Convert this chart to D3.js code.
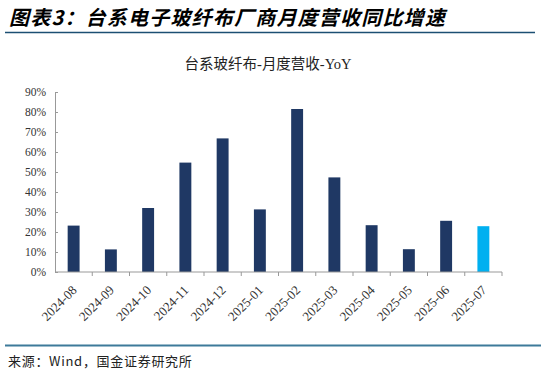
<!DOCTYPE html>
<html>
<head>
<meta charset="utf-8">
<script src="https://cdn.jsdelivr.net/npm/d3@7"></script>
<style>
  html, body { margin: 0; padding: 0; background: #fff; }
  svg { display: block; }
</style>
</head>
<body>
<div id="chart"></div>
<script>
// ---- 데이터 ----
const months = ["2024-08", "2024-09", "2024-10", "2024-11", "2024-12", "2025-01",
                "2025-02", "2025-03", "2025-04", "2025-05", "2025-06", "2025-07"];
const yoy = [0.232, 0.113, 0.32, 0.547, 0.668, 0.313, 0.815, 0.473, 0.234, 0.114, 0.256, 0.229];
const yTicks = [0, 0.1, 0.2, 0.3, 0.4, 0.5, 0.6, 0.7, 0.8, 0.9];

const W = 541, H = 374;
const svg = d3.select("#chart").append("svg")
  .attr("width", W).attr("height", H);

// 제목
svg.append("text")
  .attr("x", 9).attr("y", 25)
  .attr("font-family", "'Noto Sans CJK SC', sans-serif")
  .attr("font-size", 20).attr("font-weight", "bold").attr("font-style", "italic")
  .attr("letter-spacing", 1.2)
  .attr("fill", "#000")
  .text("图表3：台系电子玻纤布厂商月度营收同比增速");

svg.append("line")
  .attr("x1", 5).attr("x2", 535).attr("y1", 32.5).attr("y2", 32.5)
  .attr("stroke", "#1c4f73").attr("stroke-width", 1.5);

// 차트 제목
svg.append("text")
  .attr("x", 268).attr("y", 69)
  .attr("text-anchor", "middle")
  .attr("font-family", "'Liberation Serif', 'Noto Sans CJK SC', serif")
  .attr("font-size", 14.5)
  .attr("fill", "#222")
  .text("台系玻纤布-月度营收-YoY");

// 스케일
const x = d3.scaleBand().domain(months).range([55, 502]).paddingInner(0.68).paddingOuter(0.34);
const y = d3.scaleLinear().domain([0, 0.9]).range([272, 92]);

// y축
const yAxis = svg.append("g")
  .attr("transform", "translate(55,0)")
  .call(d3.axisRight(y).tickValues(yTicks).tickSize(3).tickFormat(d3.format(".0%")));
yAxis.select(".domain").attr("stroke", "#999");
yAxis.selectAll(".tick line").attr("stroke", "#999");
yAxis.selectAll(".tick text")
  .attr("x", -9).attr("text-anchor", "end")
  .attr("font-family", "'Liberation Serif', serif").attr("font-size", 11.5)
  .attr("fill", "#333");

// 막대
svg.append("g").selectAll("rect")
  .data(yoy)
  .join("rect")
  .attr("x", (d, i) => x(months[i]))
  .attr("width", x.bandwidth())
  .attr("y", d => y(d))
  .attr("height", d => y(0) - y(d))
  .attr("fill", (d, i) => i === yoy.length - 1 ? "#00b0f0" : "#1f3864");

// x축 (눈금은 카테고리 경계)
const xg = svg.append("g").attr("transform", `translate(0,${y(0)})`);
xg.append("line").attr("x1", 55).attr("x2", 502).attr("stroke", "#999");
const step = x.step();
xg.selectAll("line.tk")
  .data(d3.range(1, months.length + 1))
  .join("line")
  .attr("class", "tk")
  .attr("x1", i => 55 + i * step).attr("x2", i => 55 + i * step)
  .attr("y1", 0).attr("y2", 4)
  .attr("stroke", "#999");

xg.selectAll("text")
  .data(months)
  .join("text")
  .attr("transform", d => `translate(${x(d) + x.bandwidth() / 2 + 4},${19}) rotate(-45)`)
  .attr("text-anchor", "end")
  .attr("font-family", "'Liberation Serif', serif").attr("font-size", 13)
  .attr("fill", "#333")
  .text(d => d);

// 하단
svg.append("line")
  .attr("x1", 5).attr("x2", 541).attr("y1", 345.5).attr("y2", 345.5)
  .attr("stroke", "#3d7a9a").attr("stroke-width", 2);

svg.append("text")
  .attr("x", 8).attr("y", 366)
  .attr("font-family", "'Noto Sans CJK SC', sans-serif")
  .attr("font-size", 13)
  .attr("letter-spacing", 0.7)
  .attr("fill", "#222")
  .text("来源：Wind，国金证券研究所");
</script>
</body>
</html>
